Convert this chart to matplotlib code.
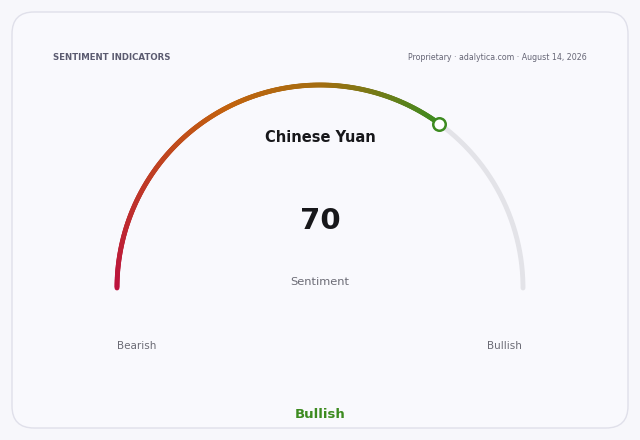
import numpy as np
import matplotlib
matplotlib.use("Agg")
import matplotlib.pyplot as plt
from matplotlib.collections import LineCollection
from matplotlib.patches import FancyBboxPatch
from matplotlib.colors import LinearSegmentedColormap

# ---- data ----
title = "SENTIMENT INDICATORS"
source = "Proprietary · adalytica.com · August 14, 2026"
asset = "Chinese Yuan"
value = 70
vmin, vmax = 0, 100
center_label = "Sentiment"
range_labels = ["Bearish", "Bullish"]
verdict = "Bullish"

# ---- style ----
W, H = 640, 440
fig = plt.figure(figsize=(W / 100, H / 100), dpi=100)
fig.patch.set_facecolor("#f7f7fb")
ax = fig.add_axes([0, 0, 1, 1])
ax.set_xlim(0, W)
ax.set_ylim(H, 0)
ax.axis("off")

card = FancyBboxPatch((12, 12), 616, 416, boxstyle="round,pad=0,rounding_size=22",
                      facecolor="#f9f9fd", edgecolor="#e0e0ea", linewidth=1.0)
ax.add_patch(card)

cx, cy, R = 320, 288, 203
lw = 3.5

def ang(v):
    return np.pi * (1 - (v - vmin) / (vmax - vmin))

# background track
t = np.linspace(ang(value), ang(vmax), 200)
ax.plot(cx + R * np.cos(t), cy - R * np.sin(t), color="#e3e3e8", lw=lw,
        solid_capstyle="round", zorder=2)

# gradient arc
cmap = LinearSegmentedColormap.from_list(
    "g", [(0, "#bc123e"), (0.5, "#c2620e"), (0.72, "#a46d10"), (1.0, "#3d8b20")])
n = 300
t = np.linspace(ang(vmin), ang(value), n + 1)
xs = cx + R * np.cos(t)
ys = cy - R * np.sin(t)
pts = np.column_stack([xs, ys]).reshape(-1, 1, 2)
segs = np.concatenate([pts[:-1], pts[1:]], axis=1)
lc = LineCollection(segs, colors=cmap(np.linspace(0, 1, n)), linewidths=lw,
                    capstyle="round", zorder=3)
ax.add_collection(lc)

# marker
ax.plot(cx + R * np.cos(ang(value)), cy - R * np.sin(ang(value)), "o",
        ms=9, mfc="white", mec="#3d8b20", mew=1.8, zorder=4)

# texts
ax.text(53, 58, title, fontsize=6.2, fontweight="bold", color="#5b5b70",
        ha="left", va="center")
ax.text(587, 58, source, fontsize=5.7, color="#666676", ha="right", va="center")
ax.text(320, 137, asset, fontsize=10.5, fontweight="bold", color="#18181b",
        ha="center", va="center")
ax.text(320, 221, f"{value}", fontsize=21, fontweight="bold", color="#18181b",
        ha="center", va="center")
ax.text(320, 282, center_label, fontsize=8.2, color="#6b6b75", ha="center", va="center")
ax.text(117, 346, range_labels[0], fontsize=7.5, color="#6b6b75", ha="left", va="center")
ax.text(522, 346, range_labels[1], fontsize=7.5, color="#6b6b75", ha="right", va="center")
ax.text(320, 414, verdict, fontsize=9.5, fontweight="bold", color="#3d8b20",
        ha="center", va="center")

fig.savefig("out.png", dpi=100, facecolor=fig.get_facecolor())
